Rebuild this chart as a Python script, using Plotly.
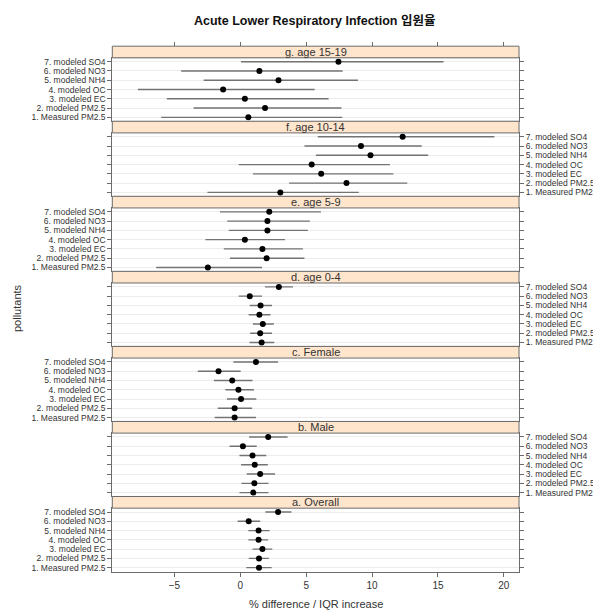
import plotly.graph_objects as go

pollutants = ["1. Measured PM2.5", "2. modeled PM2.5", "3. modeled EC", "4. modeled OC",
              "5. modeled NH4", "6. modeled NO3", "7. modeled SO4"]

panels = ["g. age 15-19", "f. age 10-14", "e. age 5-9", "d. age 0-4",
          "c. Female", "b. Male", "a. Overall"]

g_est = [0.61, 1.88, 0.35, -1.30, 2.90, 1.45, 7.45]
g_lo = [-6.0, -3.54, -5.57, -7.77, -2.78, -4.49, 0.06]
g_hi = [7.74, 7.68, 6.70, 5.65, 8.93, 7.77, 15.42]

f_est = [3.04, 8.06, 6.14, 5.42, 9.88, 9.16, 12.32]
f_lo = [-2.49, 3.71, 0.96, -0.12, 5.74, 4.87, 5.88]
f_hi = [8.99, 12.67, 11.62, 11.36, 14.26, 13.77, 19.28]

e_est = [-2.46, 2.0, 1.68, 0.35, 2.06, 2.06, 2.20]
e_lo = [-6.38, -0.78, -1.25, -2.64, -0.87, -0.99, -1.54]
e_hi = [1.65, 4.87, 4.75, 3.39, 5.13, 5.28, 6.12]

d_est = [1.62, 1.51, 1.71, 1.45, 1.54, 0.72, 2.93]
d_lo = [0.70, 0.75, 0.96, 0.64, 0.72, -0.12, 1.88]
d_hi = [2.58, 2.41, 2.55, 2.29, 2.41, 1.65, 4.0]

c_est = [-0.43, -0.43, 0.06, -0.14, -0.61, -1.65, 1.19]
c_lo = [-1.94, -1.71, -1.01, -1.13, -2.0, -3.22, -0.52]
c_hi = [1.19, 0.90, 1.22, 1.04, 0.93, 0.03, 2.87]

b_est = [0.99, 1.07, 1.51, 1.10, 0.93, 0.20, 2.12]
b_lo = [-0.06, 0.09, 0.49, 0.06, -0.06, -0.81, 0.67]
b_hi = [2.14, 2.14, 2.64, 2.09, 1.97, 1.25, 3.59]

a_est = [1.42, 1.42, 1.68, 1.39, 1.39, 0.64, 2.87]
a_lo = [0.46, 0.64, 0.93, 0.61, 0.61, -0.20, 1.91]
a_hi = [2.38, 2.17, 2.43, 2.12, 2.23, 1.51, 3.88]

x_ticks = [-5, 0, 5, 10, 15, 20]

data = [(g_est, g_lo, g_hi), (f_est, f_lo, f_hi), (e_est, e_lo, e_hi), (d_est, d_lo, d_hi),
        (c_est, c_lo, c_hi), (b_est, b_lo, b_hi), (a_est, a_lo, a_hi)]

W, H = 601, 610
X0, X1 = 104.3, 511.0
TOP0 = 37.3
PERIOD = 75.3
STRIP = 11.7
XR = [-9.71, 21.15]
FONT = "Liberation Sans, Arial, Noto Sans CJK KR, sans-serif"
BORDER = "#6b6b6b"

fig = go.Figure()
layout = dict(width=W, height=H, margin=dict(l=0, r=0, t=0, b=0),
              paper_bgcolor="white", plot_bgcolor="white", showlegend=False,
              font=dict(family=FONT, size=10, color="#333333"))
shapes = []
annotations = []

for k, (name, (est, lo, hi)) in enumerate(zip(panels, data)):
    n = k + 1
    st = TOP0 + k * PERIOD
    pt = st + STRIP
    pb = st + PERIOD
    xa = "x" if n == 1 else f"x{n}"
    ya = "y" if n == 1 else f"y{n}"
    fig.add_trace(go.Scatter(
        x=est, y=pollutants, mode="markers", xaxis=xa, yaxis=ya,
        marker=dict(color="black", size=6),
        error_x=dict(type="data", symmetric=False,
                     array=[h - e for h, e in zip(hi, est)],
                     arrayminus=[e - l for e, l in zip(est, lo)],
                     width=0, color="#737373", thickness=1.4),
        hoverinfo="skip"))
    bottom = (k == len(panels) - 1)
    layout[f"xaxis{n}"] = dict(
        domain=[X0 / W, X1 / W], anchor=ya, range=XR,
        showline=True, mirror=True, linecolor=BORDER, linewidth=1,
        showgrid=False, zeroline=False,
        ticks="outside" if bottom else "", ticklen=4, tickcolor=BORDER,
        tickmode="array", tickvals=x_ticks, showticklabels=bottom,
        tickfont=dict(size=10, color="#333333"))
    layout[f"yaxis{n}"] = dict(
        domain=[1 - pb / H, 1 - pt / H], anchor=xa,
        type="category", categoryorder="array", categoryarray=pollutants,
        tickmode="array", tickvals=pollutants, ticktext=pollutants,
        range=[-0.42, 6.42], side="left" if k % 2 == 0 else "right",
        showline=True, mirror="ticks", linecolor=BORDER, linewidth=1,
        ticks="outside", ticklen=4, tickcolor=BORDER,
        showgrid=True, gridcolor="#ececec", gridwidth=1, zeroline=False,
        tickfont=dict(size=8.5, color="#333333"))
    shapes.append(dict(type="rect", xref="paper", yref="paper",
                       x0=X0 / W, x1=X1 / W, y0=1 - pt / H, y1=1 - st / H,
                       fillcolor="#FFE5CC", line=dict(color=BORDER, width=1)))
    annotations.append(dict(text=name, xref="paper", yref="paper",
                            x=(X0 + X1) / 2 / W, y=1 - (st + STRIP / 2) / H,
                            showarrow=False, xanchor="center", yanchor="middle",
                            font=dict(size=11, color="#333333")))

# top ticks (no labels) above the first strip
fig.add_trace(go.Scatter(x=[None], y=[None], xaxis="x8", yaxis="y", hoverinfo="skip"))
layout["xaxis8"] = dict(overlaying="x", anchor="free", position=1 - TOP0 / H, side="top",
                        range=XR, tickmode="array", tickvals=x_ticks, ticks="outside", ticklen=4,
                        tickcolor=BORDER, showticklabels=False, showline=False,
                        showgrid=False, zeroline=False)

annotations.append(dict(text="<b>Acute Lower Respiratory Infection 입원율</b>", xref="paper", yref="paper",
                        x=306 / W, y=1 - 12 / H, showarrow=False, xanchor="center",
                        yanchor="middle",
                        font=dict(size=12.5, color="#111111", family=FONT)))
annotations.append(dict(text="% difference / IQR increase", xref="paper", yref="paper",
                        x=(X0 + X1) / 2 / W, y=1 - 597 / H, showarrow=False,
                        xanchor="center", yanchor="middle",
                        font=dict(size=11, color="#333333")))
annotations.append(dict(text="pollutants", xref="paper", yref="paper",
                        x=9 / W, y=1 - 300 / H, showarrow=False, textangle=-90,
                        xanchor="center", yanchor="middle",
                        font=dict(size=11, color="#333333")))

layout["shapes"] = shapes
layout["annotations"] = annotations
fig.update_layout(**layout)
fig.write_html("out.html")
